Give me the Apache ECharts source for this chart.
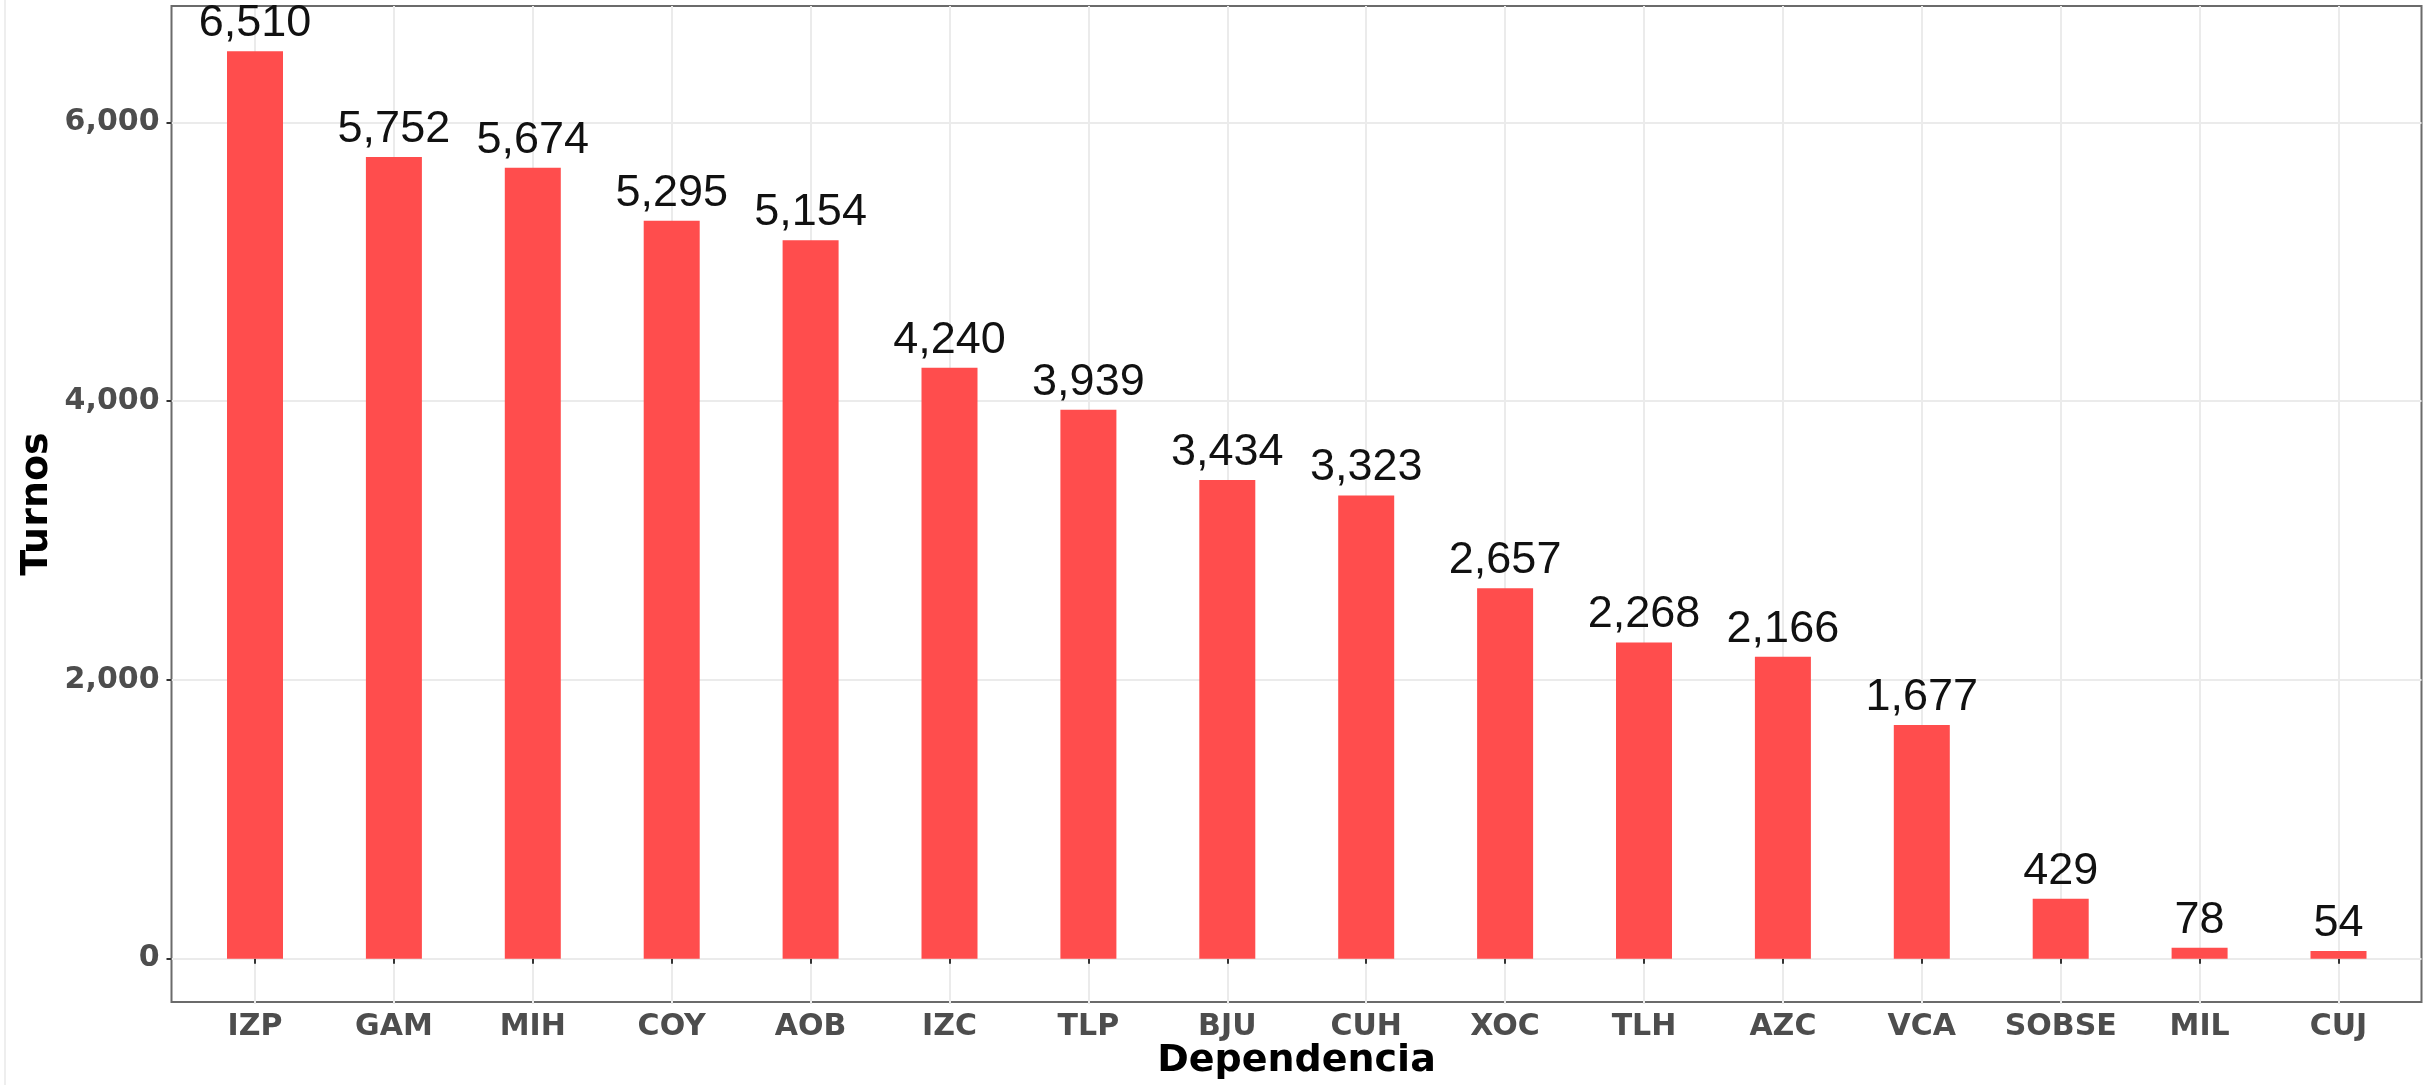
<!DOCTYPE html>
<html>
<head>
<meta charset="utf-8">
<script src="https://cdn.jsdelivr.net/npm/echarts@6/dist/echarts.min.js"></script>
<style>
html, body { margin: 0; padding: 0; background: #ffffff; }
#chart { width: 2435px; height: 1085px; }
</style>
</head>
<body>
<div id="chart"></div>
<script>
const categories = ['IZP', 'GAM', 'MIH', 'COY', 'AOB', 'IZC', 'TLP', 'BJU', 'CUH', 'XOC', 'TLH', 'AZC', 'VCA', 'SOBSE', 'MIL', 'CUJ'];
const turnos = [6510, 5752, 5674, 5295, 5154, 4240, 3939, 3434, 3323, 2657, 2268, 2166, 1677, 429, 78, 54];
const yTickValues = [0, 2000, 4000, 6000];
const xTitle = 'Dependencia';
const yTitle = 'Turnos';

const fmt = v => Number(v).toLocaleString('en-US');
const tickFont = { fontFamily: 'DejaVu Sans', fontWeight: 'bold', fontSize: 30, color: '#4D4D4D' };
const titleFont = { fontFamily: 'DejaVu Sans', fontWeight: 'bold', fontSize: 38, color: '#000000' };
const gridColor = '#EBEBEB';
const yMin = -325.5, yMax = 6835.5;   // ggplot-style 5% expansion of 0..6510

const chart = echarts.init(document.getElementById('chart'), null, { renderer: 'canvas' });
chart.setOption({
  animation: false,
  backgroundColor: '#ffffff',
  graphic: [{
    type: 'line', silent: true, z: -1,
    shape: { x1: 5, y1: 0, x2: 5, y2: 1085 },
    style: { stroke: '#EEEEEE', lineWidth: 2 }
  }],
  grid: [
    // bars + vertical grid lines (category centres)
    { left: 255, right: 96.5, top: 6, bottom: 81, containLabel: false },
    // horizontal grid lines + y labels (bottom edge = zero line)
    { left: 171.5, right: 13.5, top: 6, bottom: 126.36, containLabel: false },
    // panel border + axis titles
    { left: 171.5, right: 13.5, top: 6, bottom: 81, show: true, borderColor: '#6B6B6B', borderWidth: 2, backgroundColor: 'transparent', containLabel: false }
  ],
  xAxis: [
    {
      gridIndex: 0, type: 'category', data: categories, boundaryGap: false,
      axisLine: { show: false },
      axisTick: { show: true, length: 5, lineStyle: { color: '#333333', width: 2 } },
      axisLabel: Object.assign({ margin: 8, interval: 0 }, tickFont),
      splitLine: { show: true, lineStyle: { color: gridColor, width: 2 } }
    },
    { gridIndex: 1, type: 'value', min: 0, max: 1, show: false },
    {
      gridIndex: 2, type: 'value', min: 0, max: 1,
      name: xTitle, nameLocation: 'middle', nameGap: 40, nameTextStyle: titleFont,
      axisLine: { show: false }, axisTick: { show: false }, axisLabel: { show: false }, splitLine: { show: false }
    }
  ],
  yAxis: [
    { gridIndex: 0, type: 'value', min: yMin, max: yMax, show: false },
    {
      gridIndex: 1, type: 'value', min: 0, max: yMax, interval: 1000,
      axisLine: { show: false },
      axisTick: { show: true, length: 5, customValues: yTickValues, lineStyle: { color: '#333333', width: 2 } },
      axisLabel: Object.assign({
        margin: 12, customValues: yTickValues,
        formatter: v => (yTickValues.indexOf(v) >= 0 ? fmt(v) : '')
      }, tickFont),
      splitLine: { show: true, lineStyle: { color: gridColor, width: 2 } }
    },
    {
      gridIndex: 2, type: 'value', min: 0, max: 1,
      name: yTitle, nameLocation: 'middle', nameGap: 115, nameTextStyle: titleFont,
      axisLine: { show: false }, axisTick: { show: false }, axisLabel: { show: false }, splitLine: { show: false }
    }
  ],
  series: [{
    type: 'bar',
    xAxisIndex: 0, yAxisIndex: 0,
    data: turnos,
    barWidth: 56,
    itemStyle: { color: '#FF4D4D' },
    label: {
      show: true, position: 'top', distance: 5,
      fontFamily: 'Liberation Sans', fontSize: 45, color: '#111111',
      formatter: p => fmt(p.value)
    }
  }]
});
</script>
</body>
</html>
